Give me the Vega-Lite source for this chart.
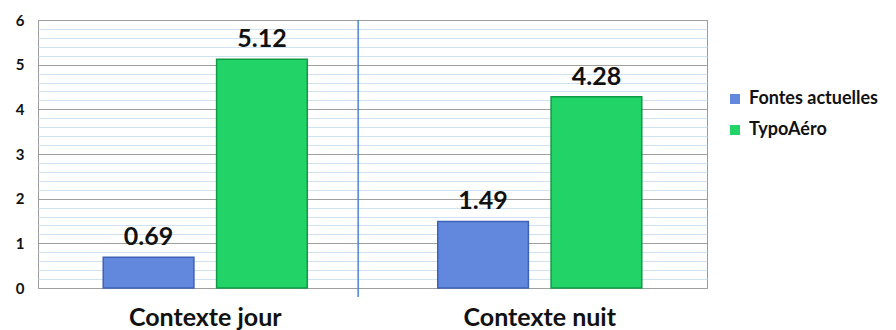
{
  "$schema": "https://vega.github.io/schema/vega-lite/v6.json",
  "autosize": "none",
  "width": 669,
  "height": 268,
  "padding": {"left": 38, "top": 20, "right": 189, "bottom": 42},
  "background": "white",
  "config": {
    "view": {"stroke": "#9a9a9a", "strokeWidth": 1},
    "font": "Lato"
  },
  "data": {
    "values": [
      {"contexte": "Contexte jour", "serie": "Fontes actuelles", "valeur": 0.69},
      {"contexte": "Contexte jour", "serie": "TypoAéro", "valeur": 5.12},
      {"contexte": "Contexte nuit", "serie": "Fontes actuelles", "valeur": 1.49},
      {"contexte": "Contexte nuit", "serie": "TypoAéro", "valeur": 4.28}
    ]
  },
  "encoding": {
    "x": {
      "field": "contexte",
      "type": "nominal",
      "sort": ["Contexte jour", "Contexte nuit"],
      "scale": {"paddingInner": 0.39, "paddingOuter": 0.195},
      "axis": {
        "title": null,
        "labelAngle": 0,
        "labelFont": "Lato",
        "labelFontSize": 25,
        "labelFontWeight": "bold",
        "labelColor": "#111111",
        "labelPadding": 17,
        "ticks": false,
        "domain": false,
        "grid": false
      }
    },
    "xOffset": {
      "field": "serie",
      "type": "nominal",
      "sort": ["Fontes actuelles", "TypoAéro"],
      "scale": {"paddingInner": 0.2, "paddingOuter": 0}
    },
    "y": {
      "field": "valeur",
      "type": "quantitative",
      "scale": {"domain": [0, 6], "nice": false},
      "axis": {
        "title": null,
        "values": [0, 0.2, 0.4, 0.6, 0.8, 1, 1.2, 1.4, 1.6, 1.8, 2, 2.2, 2.4, 2.6, 2.8, 3, 3.2, 3.4, 3.6, 3.8, 4, 4.2, 4.4, 4.6, 4.8, 5, 5.2, 5.4, 5.6, 5.8, 6],
        "labelExpr": "abs(datum.value - round(datum.value)) < 0.001 ? format(datum.value, 'd') : ''",
        "labelFont": "Lato",
        "labelFontSize": 15,
        "labelFontWeight": "bold",
        "labelColor": "#111111",
        "labelPadding": 14,
        "ticks": false,
        "domain": false,
        "grid": true,
        "gridColor": {
          "condition": {"test": "abs(datum.value - round(datum.value)) < 0.001", "value": "#9f9f9f"},
          "value": "#cfe2f3"
        },
        "gridWidth": 1
      }
    }
  },
  "layer": [
    {
      "mark": {"type": "bar", "strokeWidth": 1.5},
      "encoding": {
        "color": {
          "field": "serie",
          "type": "nominal",
          "sort": ["Fontes actuelles", "TypoAéro"],
          "scale": {"range": ["#6188dc", "#22d468"]},
          "legend": {
            "title": null,
            "orient": "none",
            "legendX": 688,
            "legendY": 70,
            "symbolType": "square",
            "symbolSize": 100,
            "symbolStrokeWidth": 0,
            "labelFont": "Lato",
            "labelFontSize": 18,
            "labelFontWeight": "bold",
            "labelColor": "#111111",
            "rowPadding": 13,
            "labelOffset": 5
          }
        },
        "stroke": {
          "field": "serie",
          "type": "nominal",
          "sort": ["Fontes actuelles", "TypoAéro"],
          "scale": {"range": ["#3e62b4", "#0f9a45"]},
          "legend": null
        }
      }
    },
    {
      "mark": {"type": "text", "baseline": "bottom", "dy": -7, "fontSize": 25, "fontWeight": "bold", "font": "Lato", "color": "#111111"},
      "encoding": {
        "text": {"field": "valeur", "type": "quantitative", "format": ".2f"}
      }
    },
    {
      "data": {"values": [{"contexte": "Contexte nuit"}]},
      "mark": {"type": "rule", "color": "#4f86d8", "strokeWidth": 1.5, "y": 0, "y2": 277},
      "encoding": {
        "x": {"field": "contexte", "type": "nominal", "bandPosition": -0.39},
        "xOffset": null,
        "y": null
      }
    }
  ]
}
